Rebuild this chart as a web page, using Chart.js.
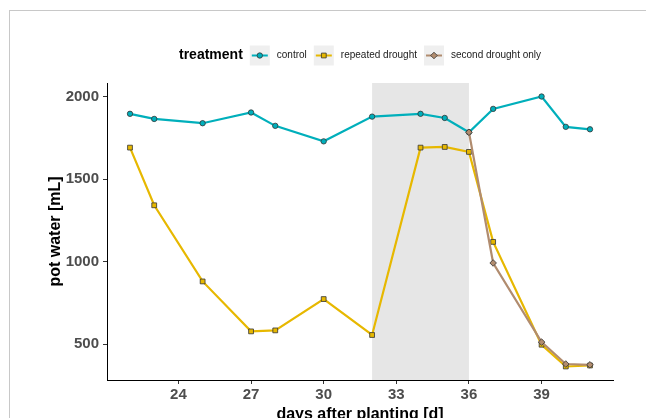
<!DOCTYPE html>
<html>
<head>
<meta charset="utf-8">
<script src="https://cdn.jsdelivr.net/npm/chart.js@4"></script>
<style>
  html, body { margin: 0; padding: 0; background: #fff; }
  #wrap { position: relative; width: 646px; height: 418px; overflow: hidden; }
  #frame { position: absolute; left: 9px; top: 10px; right: 0; bottom: 0;
           border-top: 1px solid #c8c8c8; border-left: 1px solid #c8c8c8; pointer-events: none; }
</style>
</head>
<body>
<div id="wrap">
  <canvas id="c" width="646" height="418"></canvas>
  <div id="frame"></div>
</div>
<script>
const days = [22, 23, 25, 27, 28, 30, 32, 34, 35, 36, 37, 39, 40, 41]
const control = [1897, 1866, 1840, 1905, 1824, 1730, 1880, 1897, 1872, 1785, 1927, 2002, 1818, 1803]
const repeatedDrought = [1692, 1342, 880, 577, 583, 773, 555, 1692, 1696, 1666, 1120, 496, 364, 370]
const secondDays = [36, 37, 39, 40, 41]
const secondDroughtOnly = [1785, 992, 512, 379, 374]
const xTicks = [24, 27, 30, 33, 36, 39]
const yTicks = [500, 1000, 1500, 2000]
const shadeFrom = 32
const shadeTo = 36

const FONT = "'Liberation Sans', Arial, sans-serif"
const series = [
  { label: 'control', color: '#00AFBB', shape: 'circle' },
  { label: 'repeated drought', color: '#E7B800', shape: 'rect' },
  { label: 'second drought only', color: '#B18C6F', shape: 'rectRot' },
]

function points(xs, ys) {
  return xs.map((x, i) => ({ x, y: ys[i] }))
}

function drawMarker(ctx, shape, x, y, fill) {
  ctx.beginPath()
  if (shape === 'circle') ctx.arc(x, y, 2.7, 0, Math.PI * 2)
  else if (shape === 'rect') ctx.rect(x - 2.4, y - 2.4, 4.8, 4.8)
  else {
    ctx.moveTo(x, y - 3.3); ctx.lineTo(x + 3.3, y); ctx.lineTo(x, y + 3.3); ctx.lineTo(x - 3.3, y); ctx.closePath()
  }
  ctx.fillStyle = fill
  ctx.fill()
  ctx.lineWidth = 0.8
  ctx.strokeStyle = '#333'
  ctx.stroke()
}

// grey band for the drought window
const shade = {
  id: 'shade',
  beforeDatasetsDraw(chart) {
    const { ctx, chartArea, scales } = chart
    const x0 = scales.x.getPixelForValue(shadeFrom)
    const x1 = scales.x.getPixelForValue(shadeTo)
    ctx.save()
    ctx.fillStyle = '#E6E6E6'
    ctx.fillRect(x0, chartArea.top, x1 - x0, chartArea.bottom - chartArea.top)
    ctx.restore()
  },
}

// ggplot style legend on one line
const legendRow = {
  id: 'legendRow',
  afterDraw(chart) {
    const ctx = chart.ctx
    const cy = 55.5
    let x = 179
    ctx.save()
    ctx.textBaseline = 'middle'
    ctx.textAlign = 'left'
    ctx.fillStyle = '#000'
    ctx.font = 'bold 14px ' + FONT
    ctx.fillText('treatment', x, cy)
    x += ctx.measureText('treatment').width + 7
    ctx.font = '10px ' + FONT
    series.forEach(s => {
      ctx.fillStyle = '#EFEFEF'
      ctx.fillRect(x, cy - 10, 20, 20)
      ctx.strokeStyle = s.color
      ctx.lineWidth = 2
      ctx.beginPath()
      ctx.moveTo(x + 2, cy)
      ctx.lineTo(x + 18, cy)
      ctx.stroke()
      drawMarker(ctx, s.shape, x + 10, cy, s.color)
      x += 27
      ctx.fillStyle = '#1a1a1a'
      ctx.fillText(s.label, x, cy)
      x += ctx.measureText(s.label).width + 7
    })
    ctx.restore()
  },
}

function dataset(s, data, order) {
  return {
    label: s.label,
    data,
    order,
    borderColor: s.color,
    backgroundColor: s.color,
    borderWidth: 2.2,
    tension: 0,
    pointStyle: s.shape,
    pointRadius: s.shape === 'circle' ? 2.7 : s.shape === 'rect' ? 3.4 : 3.3,
    pointBorderColor: '#333',
    pointBorderWidth: 0.8,
    pointBackgroundColor: s.color,
  }
}

new Chart(document.getElementById('c'), {
  type: 'line',
  data: {
    datasets: [
      dataset(series[0], points(days, control), 3),
      dataset(series[1], points(days, repeatedDrought), 2),
      dataset(series[2], points(secondDays, secondDroughtOnly), 1),
    ],
  },
  options: {
    responsive: false,
    animation: false,
    layout: { padding: { left: 45, right: 33, top: 83, bottom: 0 } },
    plugins: { legend: { display: false }, tooltip: { enabled: false } },
    scales: {
      x: {
        type: 'linear',
        min: 21.05,
        max: 41.95,
        afterBuildTicks: scale => { scale.ticks = xTicks.map(v => ({ value: v })) },
        afterFit: scale => { scale.height = 38 },
        grid: { drawOnChartArea: false, drawTicks: true, tickLength: 4, color: '#333', tickWidth: 1 },
        border: { display: true, color: '#000', width: 1 },
        ticks: {
          padding: 2,
          maxRotation: 0,
          color: '#4D4D4D',
          font: { family: FONT, size: 15, weight: 'bold' },
          callback: v => String(v),
        },
        title: {
          display: true,
          text: 'days after planting [d]',
          color: '#000',
          font: { family: FONT, size: 16, weight: 'bold', lineHeight: 1 },
          padding: { top: 0, bottom: -5 },
        },
      },
      y: {
        type: 'linear',
        min: 282,
        max: 2084,
        afterBuildTicks: scale => { scale.ticks = yTicks.map(v => ({ value: v })) },
        afterFit: scale => { scale.width = 62 },
        grid: { drawOnChartArea: false, drawTicks: true, tickLength: 4, color: '#333', tickWidth: 1 },
        border: { display: true, color: '#000', width: 1 },
        ticks: {
          padding: 4,
          color: '#4D4D4D',
          font: { family: FONT, size: 15, weight: 'bold' },
          callback: v => String(v),
        },
        title: {
          display: true,
          text: 'pot water [mL]',
          color: '#000',
          font: { family: FONT, size: 16, weight: 'bold', lineHeight: 1 },
          padding: { top: 3, bottom: 0 },
        },
      },
    },
  },
  plugins: [shade, legendRow],
})
</script>
</body>
</html>
